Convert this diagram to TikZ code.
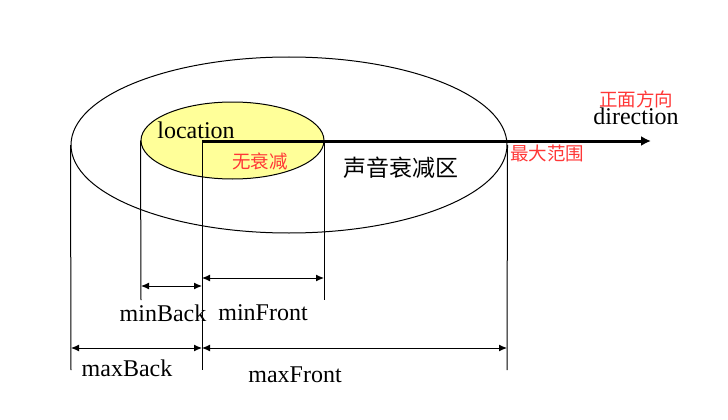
\documentclass[tikz,border=0pt]{standalone}
\usepackage{fontspec}
\setmainfont{Liberation Serif}
\newfontfamily\cjk{Noto Sans CJK SC}
\usetikzlibrary{shapes.geometric,arrows.meta}
\definecolor{lblred}{RGB}{255,55,55}
\definecolor{pale}{RGB}{255,255,153}
\tikzset{
  ring/.style={draw=black,line width=1pt,ellipse,inner sep=0pt},
  guide/.style={draw=black,line width=1pt},
  dim/.style={draw=black,line width=1pt,{Latex[length=8pt,width=7pt]}-{Latex[length=8pt,width=7pt]}},
  lbl/.style={inner sep=0pt,font=\fontsize{24}{26}\selectfont},
  red/.style={inner sep=0pt,text=lblred,font=\cjk\fontsize{18.5}{20}\selectfont},
  zh/.style={inner sep=0pt,font=\cjk\fontsize{23}{25}\selectfont}
}
\begin{document}
\begin{tikzpicture}[x=1pt,y=-1pt]
\useasboundingbox (0,0) rectangle (728,420);
% ellipses
\node[ring,minimum width=436pt,minimum height=176pt] (outer) at (289,145) {};
\node[ring,fill=pale,minimum width=183pt,minimum height=77pt] (inner) at (232.5,140.5) {};
% guide coordinates
\coordinate (lt) at (outer.west);
\coordinate (lb) at (71,370);
\coordinate (mt) at (inner.west);
\coordinate (mb) at (141,300);
\coordinate (ot) at (202,141);
\coordinate (ob) at (202,370);
\coordinate (ft) at (324,141);
\coordinate (fb) at (324,300);
\coordinate (rt) at (outer.east);
\coordinate (rb) at (507,370);
\coordinate (tip) at (651,141);
% guides
\draw[guide] (lt) -- (lb);
\draw[guide] (mt) -- (mb);
\draw[guide] (ot) -- (ob);
\draw[guide] (ft) -- (fb);
\draw[guide] (rt) -- (rb);
% direction arrow
\draw[line width=3pt,-{Latex[length=10pt,width=10pt]}] (ot) -- (tip);
% dimension arrows
\coordinate (d1a) at (141,286); \coordinate (d1b) at (202,286);
\coordinate (d2a) at (202,278); \coordinate (d2b) at (324,278);
\coordinate (d3a) at (71,348);  \coordinate (d3b) at (202,348);
\coordinate (d4a) at (202,348); \coordinate (d4b) at (507,348);
\draw[dim] (d1a) -- (d1b);
\draw[dim] (d2a) -- (d2b);
\draw[dim] (d3a) -- (d3b);
\draw[dim] (d4a) -- (d4b);
% labels
\node[lbl] (loc) at (196,130) {location};
\node[red] (nodecay) at (260,161) {无衰减};
\node[zh] (zone) at (401,168) {声音衰减区};
\node[red,anchor=west] (maxr) at (510,153) {最大范围};
\node[red] (front) at (636,99) {正面方向};
\node[lbl] (dir) at (636,116) {direction};
\node[lbl] (minb) at (163,313) {minBack};
\node[lbl] (minf) at (263,313) {minFront};
\node[lbl] (maxb) at (127,368) {maxBack};
\node[lbl] (maxf) at (295,375) {maxFront};
\end{tikzpicture}
\end{document}
